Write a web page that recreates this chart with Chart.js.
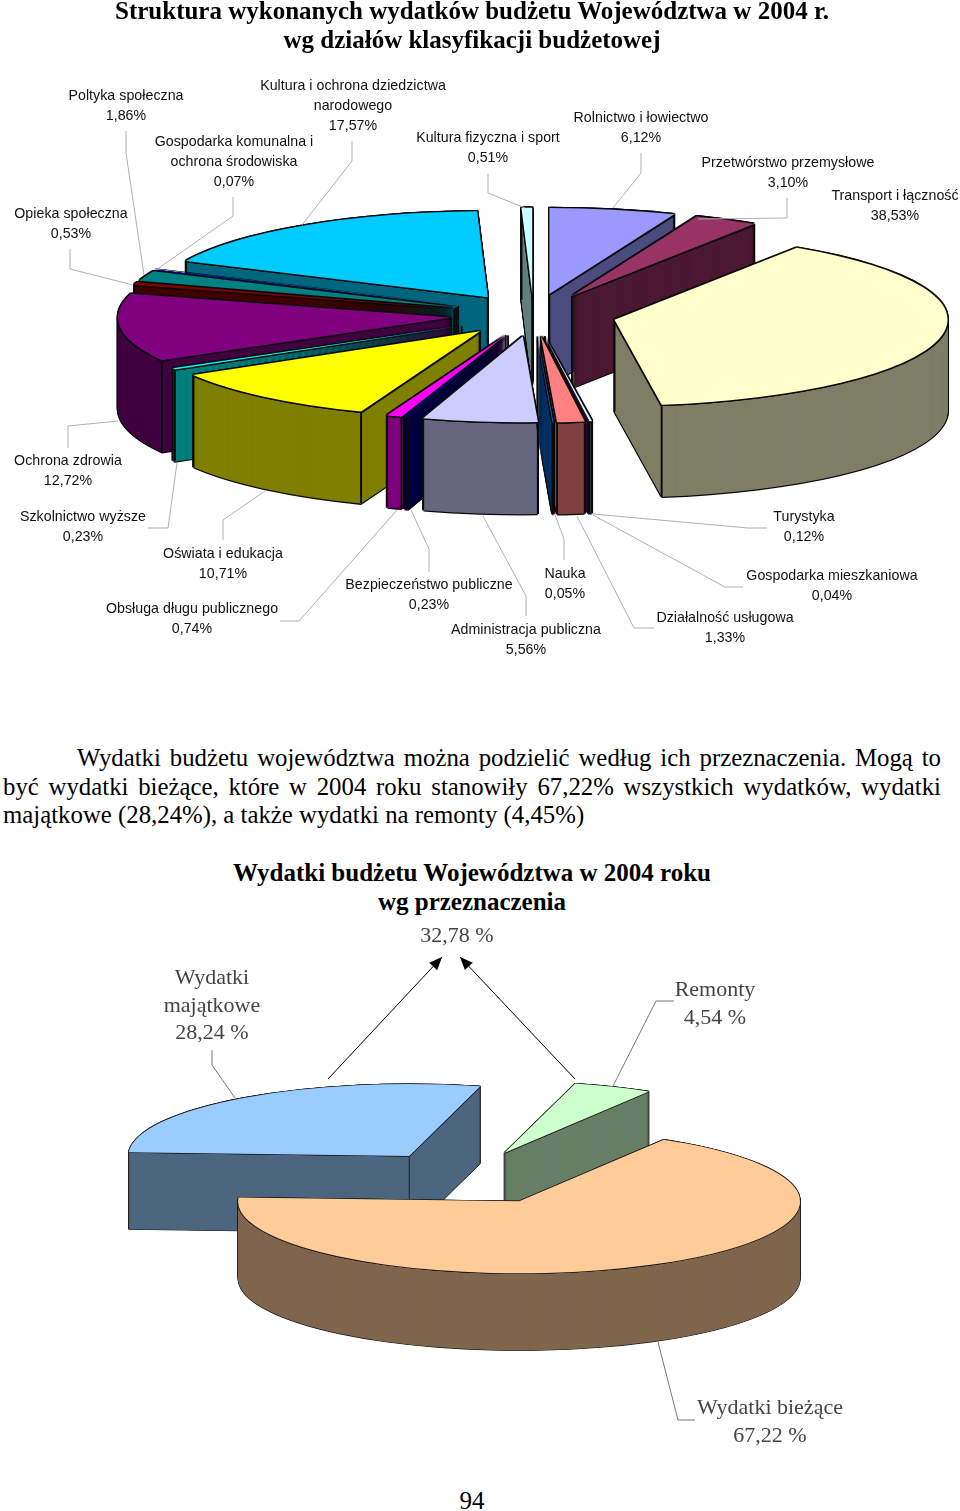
<!DOCTYPE html>
<html lang="pl">
<head>
<meta charset="utf-8">
<title>Struktura wydatków budżetu Województwa w 2004 r.</title>
<script src="https://cdn.jsdelivr.net/npm/chart.js@4/dist/chart.umd.min.js"></script>
<style>
  html, body { margin: 0; padding: 0; background: #fff; }
  #page { position: relative; width: 960px; height: 1511px; overflow: hidden; color: #000; font-family: "Liberation Serif", serif; }
  canvas { position: absolute; left: 0; }
  #pieTop { top: 0; }
  #pieBottom { top: 920px; }
  .title { position: absolute; left: 0; width: 944px; text-align: center; font-weight: bold; font-size: 25px; line-height: 29px; }
  .para { position: absolute; left: 3px; width: 938px; font-size: 24.8px; line-height: 28px; white-space: nowrap; }
  .just { text-align: justify; text-align-last: justify; white-space: normal; }
  .lbl { position: absolute; transform: translateX(-50%); text-align: center; white-space: nowrap; font: 14.2px/20px "Liberation Sans", sans-serif; letter-spacing: 0.04px; color: #111; }
  .lbl2 { position: absolute; transform: translateX(-50%); text-align: center; white-space: nowrap; font: 22px/27.5px "Liberation Serif", serif; color: #444; }
</style>
</head>
<body>
<div id="page">
  <canvas id="pieTop" width="960" height="680"></canvas>
  <canvas id="pieBottom" width="960" height="512"></canvas>
  <div class="title" style="top:-4px">Struktura wykonanych wydatków budżetu Województwa w 2004 r.<br>wg działów klasyfikacji budżetowej</div>
  <div class="para just" style="top:744px;left:77px;width:864px">Wydatki budżetu województwa można podzielić według ich przeznaczenia. Mogą to</div>
  <div class="para just" style="top:773px">być wydatki bieżące, które w 2004 roku stanowiły 67,22% wszystkich wydatków, wydatki</div>
  <div class="para" style="top:801px">majątkowe (28,24%), a także wydatki na remonty (4,45%)</div>
  <div class="title" style="top:858px">Wydatki budżetu Województwa w 2004 roku<br>wg przeznaczenia</div>
  <div class="lbl2" style="left:457px;top:921px">32,78 %</div>
  <div class="title" style="top:1486px;font-weight:normal">94</div>
  <div id="labels"></div>
</div>
<script>
// Wydatki wg działów (od góry, zgodnie z ruchem wskazówek)
const categories = ['Rolnictwo i łowiectwo', 'Przetwórstwo przemysłowe', 'Transport i łączność', 'Turystyka',
  'Gospodarka mieszkaniowa', 'Działalność usługowa', 'Nauka', 'Administracja publiczna', 'Bezpieczeństwo publiczne',
  'Obsługa długu publicznego', 'Oświata i edukacja', 'Szkolnictwo wyższe', 'Ochrona zdrowia', 'Opieka społeczna',
  'Poltyka społeczna', 'Gospodarka komunalna i\nochrona środowiska', 'Kultura i ochrona dziedzictwa\nnarodowego',
  'Kultura fizyczna i sport'];
const values = [6.12, 3.10, 38.53, 0.12, 0.04, 1.33, 0.05, 5.56, 0.23, 0.74, 10.71, 0.23, 12.72, 0.53, 1.86, 0.07, 17.57, 0.51];
const colors = ['#9999FF', '#993366', '#FFFFCC', '#CCFFFF', '#660066', '#FF8080', '#0066CC', '#CCCCFF', '#000080',
  '#FF00FF', '#FFFF00', '#00FFFF', '#800080', '#800000', '#008080', '#0000FF', '#00CCFF', '#CCFFFF'];

// Wydatki wg przeznaczenia
const purposeCategories = ['Wydatki\nmajątkowe', 'Remonty', 'Wydatki  bieżące'];
const purposeValues = [28.24, 4.54, 67.22];
const purposeColors = ['#99CCFF', '#CCFFCC', '#FFCC99'];

// środek etykiety [x, górna krawędź], w tej samej kolejności co kategorie
const labelPos = [[641, 107], [788, 152], [895, 185], [804, 506], [832, 565], [725, 607], [565, 563], [526, 619],
  [429, 574], [192, 598], [223, 543], [83, 506], [68, 450], [71, 203], [126, 85], [234, 131], [353, 75], [488, 127]];
const purposeLabelPos = [[212, 963], [715, 975], [770, 1393]];

// linie odniesienia etykiet, współrzędne canvasa
const leadersTop = [
  [[126, 131], [126, 153], [144, 275]], [[233, 197], [233, 216], [156, 270]], [[70, 249], [70, 269], [133, 285]],
  [[352, 141], [352, 161], [302, 225]], [[488, 174], [488, 193], [525, 208]], [[641, 153], [641, 173], [613, 208]],
  [[787, 198], [787, 218], [698, 219]], [[148, 528], [168, 528], [177, 463]], [[68, 448], [68, 426], [118, 421]],
  [[223, 540], [223, 520], [265, 491]], [[280, 621], [299, 621], [397, 510]], [[429, 572], [429, 549], [411, 510]],
  [[526, 616], [526, 596], [483, 516]], [[564, 560], [564, 539], [555, 515]], [[654, 628], [634, 628], [577, 516]],
  [[743, 587], [725, 587], [593, 515]], [[767, 528], [748, 528], [593, 514]]
];
const leadersBottom = [
  [[212, 130], [212, 145], [235, 178]], [[674, 81], [656, 81], [613, 166]], [[695, 500], [678, 500], [658, 422]]
];
const arrowsBottom = [[[328, 159], [442, 37]], [[575, 159], [460, 37]]];

function halfColor(hex) {
  const n = parseInt(hex.slice(1), 16);
  return `rgb(${(n >> 16) >> 1},${((n >> 8) & 255) >> 1},${(n & 255) >> 1})`;
}

// Spłaszcza koło, rozsuwa wycinki i dorysowuje ścianki
const pie3d = {
  id: 'pie3d',
  afterDatasetsUpdate(chart, args, opts) {
    // własne rozsunięcie: opcja offset z Chart.js zwęża cienkie wycinki do zera
    const arcs = chart.getDatasetMeta(0).data;
    chart.$pieCenter = { x: arcs[0].x, y: arcs[0].y };
    arcs.forEach((a, i) => {
      const mid = (a.startAngle + a.endAngle) / 2;
      a.x += Math.cos(mid) * opts.explode[i];
      a.y += Math.sin(mid) * opts.explode[i];
    });
  },
  beforeDatasetsDraw(chart, args, opts) {
    const ctx = chart.ctx;
    const arcs = chart.getDatasetMeta(0).data;
    const { ratio, depth, edge, edgeColor } = opts;
    const { x: cx, y: cy } = chart.$pieCenter;

    const stamp = (arc, color, dx, dy) => {
      const ghost = Object.create(arc);
      ghost.options = { offset: 0, spacing: 0, circular: true, borderWidth: 0, borderRadius: 0, backgroundColor: color };
      ctx.save();
      ctx.translate(cx + dx, cy + dy);
      ctx.scale(1, ratio);
      ctx.translate(-cx, -cy);
      ghost.draw(ctx);
      ctx.restore();
    };

    const midSin = a => Math.sin((a.startAngle + a.endAngle) / 2);
    [...arcs].sort((p, q) => midSin(p) - midSin(q)).forEach(arc => {
      const wall = halfColor(arc.options.backgroundColor);
      for (let d = depth; d >= 0; d -= 1) {
        stamp(arc, edgeColor, -edge, d);
        stamp(arc, edgeColor, edge, d);
      }
      stamp(arc, edgeColor, 0, depth + edge);
      for (let d = depth; d >= 0; d -= 1) stamp(arc, wall, 0, d);

      // pionowe krawędzie, tylko te widoczne z przodu
      const s = arc.startAngle, e = arc.endAngle, R = arc.outerRadius;
      const ox = arc.x, oy = cy + (arc.y - cy) * ratio;
      const downAngle = ((Math.PI / 2 - s) % (2 * Math.PI) + 2 * Math.PI) % (2 * Math.PI);
      const corners = [];
      if (downAngle >= e - s) corners.push([ox, oy]);
      if (!(Math.sin(s) < 0 && Math.cos(s) > 0)) corners.push([ox + R * Math.cos(s), oy + R * Math.sin(s) * ratio]);
      if (!(Math.sin(e) < 0 && Math.cos(e) < 0)) corners.push([ox + R * Math.cos(e), oy + R * Math.sin(e) * ratio]);
      ctx.strokeStyle = edgeColor;
      ctx.lineWidth = edge * 1.5;
      corners.forEach(([x, y]) => {
        ctx.beginPath();
        ctx.moveTo(x, y);
        ctx.lineTo(x, y + depth);
        ctx.stroke();
      });

      [[-edge, 0], [edge, 0], [0, -edge], [0, edge], [-edge, -edge], [edge, -edge], [-edge, edge], [edge, edge]]
        .forEach(([dx, dy]) => stamp(arc, edgeColor, dx, dy));
    });

    ctx.save();
    ctx.translate(cx, cy);
    ctx.scale(1, ratio);
    ctx.translate(-cx, -cy);
  },
  afterDatasetsDraw(chart, args, opts) {
    const ctx = chart.ctx;
    ctx.restore();
    ctx.strokeStyle = opts.leaderColor;
    ctx.lineWidth = 1;
    opts.leaders.forEach(line => {
      ctx.beginPath();
      line.forEach(([x, y], i) => (i ? ctx.lineTo(x, y) : ctx.moveTo(x, y)));
      ctx.stroke();
    });
    (opts.arrows || []).forEach(([[x0, y0], [x1, y1]]) => {
      const ang = Math.atan2(y1 - y0, x1 - x0);
      ctx.strokeStyle = '#000';
      ctx.fillStyle = '#000';
      ctx.beginPath();
      ctx.moveTo(x0, y0);
      ctx.lineTo(x1, y1);
      ctx.stroke();
      ctx.beginPath();
      ctx.moveTo(x1, y1);
      ctx.lineTo(x1 - 14 * Math.cos(ang - 0.4), y1 - 14 * Math.sin(ang - 0.4));
      ctx.lineTo(x1 - 14 * Math.cos(ang + 0.4), y1 - 14 * Math.sin(ang + 0.4));
      ctx.closePath();
      ctx.fill();
    });
  }
};

function makePie(id, data, bg, rotation, padding, pieOpts) {
  return new Chart(document.getElementById(id), {
    type: 'pie',
    data: {
      datasets: [{ data, backgroundColor: bg, borderWidth: 0, clip: false }]
    },
    options: {
      responsive: false,
      animation: false,
      rotation,
      radius: pieOpts.rimRadius,
      layout: { padding },
      events: [],
      plugins: { legend: { display: false }, tooltip: { enabled: false }, pie3d: pieOpts }
    },
    plugins: [pie3d]
  });
}

makePie('pieTop', values, colors, 0, { left: 107, bottom: 50 }, {
  explode: values.map(() => 83), ratio: 0.258, depth: 92, edge: 1.3, rimRadius: 333,
  edgeColor: '#0a0a0a', leaderColor: '#b0b0b0', leaders: leadersTop
});
makePie('pieBottom', purposeValues, purposeColors, -87, { right: 27 }, {
  explode: [97, 97, 112], ratio: 0.256, depth: 77, edge: 0.6, rimRadius: 281,
  edgeColor: '#1a1a1a', leaderColor: '#777', leaders: leadersBottom, arrows: arrowsBottom
});

// etykiety z nazwą i wartością
const pct = v => v.toFixed(2).replace('.', ',');
const box = document.getElementById('labels');
function addLabel(cls, name, text, [x, y]) {
  const el = document.createElement('div');
  el.className = cls;
  el.style.left = x + 'px';
  el.style.top = y + 'px';
  el.innerText = name + '\n' + text;
  box.appendChild(el);
}
categories.forEach((c, i) => addLabel('lbl', c, pct(values[i]) + '%', labelPos[i]));
purposeCategories.forEach((c, i) => addLabel('lbl2', c, pct(purposeValues[i]) + ' %', purposeLabelPos[i]));
</script>
</body>
</html>
